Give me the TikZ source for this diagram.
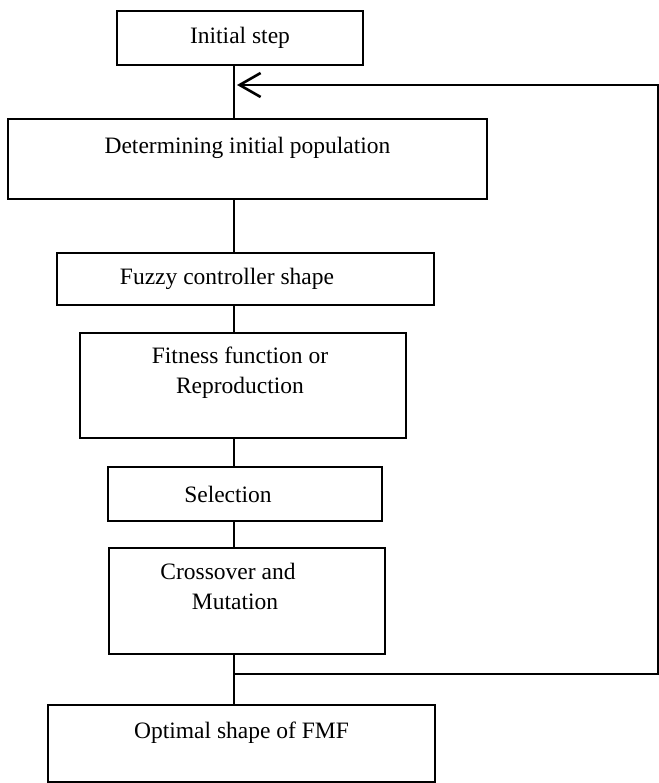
\documentclass[tikz,border=0pt]{standalone}
\usepackage{fontspec}
\setmainfont{Liberation Serif}
\usetikzlibrary{arrows.meta}

\begin{document}
\begin{tikzpicture}[x=1pt, y=-1pt, >={Straight Barb[length=21pt,width=24pt,line width=2.6pt]},
    caixa/.style={draw, line width=2.2pt, inner sep=0pt, align=center,
        font=\fontsize{23.5}{30}\selectfont},
    linha/.style={line width=1.8pt}]

    \useasboundingbox (0,0) rectangle (658,783); % Margens da figura

    \def\xt{234} % Posicao x da linha principal
    \def\yr{85} % Altura da seta de retorno
    \def\yb{674} % Altura da derivacao inferior
    \def\xd{658} % Borda direita (linha de retorno)

    % 1. Caixas do fluxograma
    \node[caixa, minimum width=246pt, minimum height=54pt] (inicio) at (240,38) {Initial step};
    \node[caixa, minimum width=479pt, minimum height=80pt, text depth=28pt] (populacao) at (247.5,159)
        {Determining initial population};
    \node[caixa, minimum width=377pt, minimum height=52pt] (fuzzy) at (245.5,279)
        {Fuzzy controller shape\hspace*{37pt}};
    \node[caixa, minimum width=326pt, minimum height=105pt, text depth=31pt] (aptidao) at (243,385.5)
        {Fitness function or\hspace*{6pt}\\Reproduction\hspace*{6pt}};
    \node[caixa, minimum width=274pt, minimum height=54pt] (selecao) at (245,494)
        {Selection\hspace*{34pt}};
    \node[caixa, minimum width=276pt, minimum height=106pt, text depth=29pt] (cruzamento) at (247,601)
        {Crossover and\hspace*{38pt}\\Mutation\hspace*{24pt}};
    \node[caixa, minimum width=387pt, minimum height=77pt, text depth=27pt] (otimo) at (241.5,743.5)
        {Optimal shape of FMF};

    % 2. Pontos auxiliares
    \coordinate (tronco) at (\xt,0); % Linha vertical principal
    \coordinate (borda) at (\xd,0); % Linha vertical de retorno
    \coordinate (derivacao) at (\xt,\yb); % Saida para o laco
    \coordinate (retorno) at (\xt+3,\yr); % Ponta da seta

    % 3. Ligacoes entre as caixas
    \draw[linha] (inicio.south -| tronco) -- (populacao.north -| tronco);
    \draw[linha] (populacao.south -| tronco) -- (fuzzy.north -| tronco);
    \draw[linha] (fuzzy.south -| tronco) -- (aptidao.north -| tronco);
    \draw[linha] (aptidao.south -| tronco) -- (selecao.north -| tronco);
    \draw[linha] (selecao.south -| tronco) -- (cruzamento.north -| tronco);
    \draw[linha] (cruzamento.south -| tronco) -- (otimo.north -| tronco);

    % 4. Laco de retorno (volta para a populacao)
    \draw[->, linha, line width=1.6pt] (derivacao) -- (derivacao -| borda) -- (retorno -| borda) -- (retorno);

\end{tikzpicture}
\end{document}
